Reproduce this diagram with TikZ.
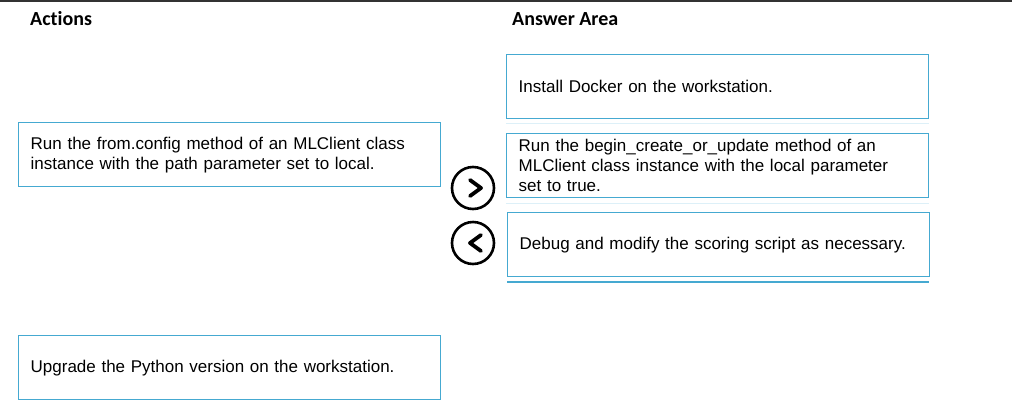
\documentclass[tikz,border=0pt]{standalone}
\usepackage{fontspec}
\setmainfont{Liberation Sans}
\newfontfamily\headfont[Ligatures={NoCommon,NoRare,NoContextual}]{Carlito}
\usetikzlibrary{positioning}

\definecolor{boxblue}{HTML}{45A9D1}
\definecolor{faintblue}{HTML}{DDF0F8}
\definecolor{rulegray}{HTML}{333333}

\begin{document}
\begin{tikzpicture}[x=1pt, y=-1pt,
    heading/.style={anchor=west, inner sep=0pt, font=\headfont\bfseries\fontsize{20}{24}\selectfont},
    choice/.style={draw=boxblue, line width=1.4pt, anchor=north west, minimum width=422pt, minimum height=64pt,
        text width=398pt, inner xsep=12pt, align=left, font=\fontsize{17}{20}\selectfont},
    navbtn/.style={draw, circle, line width=2.6pt, minimum size=42pt, inner sep=0pt},
    chev/.style={line width=3.8pt, line cap=round, line join=round}]
    \useasboundingbox (0,0) rectangle (1012,413);
    \draw[rulegray, line width=2pt] (0,1) -- (1012,1);

    % headings
    \node[heading] (actions) at (30,19) {Actions};
    \node[heading] (answer) at (512,19) {Answer Area};

    % actions
    \node[choice] (fromconfig) at (18,122) {Run the from.config method of an MLClient class\\instance with the path parameter set to local.};
    \node[choice] (python) at (18,335) {Upgrade the Python version on the workstation.};

    % answer area
    \node[choice] (docker) at (506,54) {Install Docker on the workstation.};
    \node[choice] (begincreate) at (506,133) {Run the begin\_create\_or\_update method of an\\MLClient class instance with the local parameter\\set to true.};
    \node[choice] (debug) at (507,212) {Debug and modify the scoring script as necessary.};
    \draw[faintblue, line width=1pt] (506,123) -- (929,123);
    \draw[faintblue, line width=1pt] (506,203) -- (929,203);
    \draw[boxblue, line width=1.4pt] (507,282) -- (929,282);

    % move buttons
    \node[navbtn] (next) at (473,188) {};
    \node[navbtn] (prev) at (473,243) {};
    \draw[chev] ([xshift=-3pt, yshift=8pt]next.center) -- ([xshift=8pt]next.center) -- ([xshift=-3pt, yshift=-8pt]next.center);
    \draw[chev] ([xshift=8pt, yshift=8pt]prev.center) -- ([xshift=-3pt]prev.center) -- ([xshift=8pt, yshift=-8pt]prev.center);
\end{tikzpicture}
\end{document}
